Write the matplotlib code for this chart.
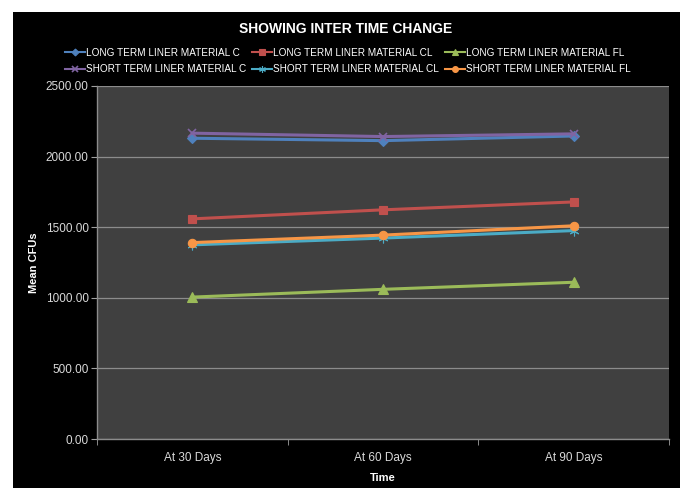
import matplotlib.pyplot as plt
from matplotlib.patches import Rectangle

categories = ["At 30 Days", "At 60 Days", "At 90 Days"]

long_c = [2130, 2113, 2146]
long_cl = [1559, 1623, 1679]
long_fl = [1005, 1060, 1110]
short_c = [2166, 2142, 2161]
short_cl = [1375, 1423, 1476]
short_fl = [1391, 1444, 1510]

y_ticks = [0, 500, 1000, 1500, 2000, 2500]

series = [
    ("LONG TERM LINER MATERIAL C", long_c, "#4F81BD", "D", 5),
    ("LONG TERM LINER MATERIAL CL", long_cl, "#C0504D", "s", 6),
    ("LONG TERM LINER MATERIAL FL", long_fl, "#9BBB59", "^", 7),
    ("SHORT TERM LINER MATERIAL C", short_c, "#8064A2", "x", 6),
    ("SHORT TERM LINER MATERIAL CL", short_cl, "#4BACC6", (6, 2, 0), 7),
    ("SHORT TERM LINER MATERIAL FL", short_fl, "#F79646", "o", 6),
]

plt.rcParams["font.family"] = ["Liberation Sans", "DejaVu Sans"]

fig = plt.figure(figsize=(6.86, 4.88), dpi=100)
fig.patch.set_facecolor("white")
# black chart background inside a thin white margin
fig.add_artist(Rectangle((13 / 686, 0), 667 / 686, 476 / 488,
                         transform=fig.transFigure, facecolor="black",
                         edgecolor="none", zorder=0))

ax = fig.add_axes([97 / 686, 49 / 488, 572 / 686, 353 / 488])
ax.set_facecolor("#404040")

x = list(range(len(categories)))
for label, values, color, marker, ms in series:
    ax.plot(x, values, color=color, lw=2.2, marker=marker, markersize=ms,
            markeredgecolor=color, markeredgewidth=1.2 if marker == "x" else 0.8,
            label=label, zorder=3)

ax.set_xlim(-0.5, len(categories) - 0.5)
ax.set_ylim(0, 2500)
ax.set_yticks(y_ticks)
ax.set_yticklabels([f"{v:.2f}" for v in y_ticks], color="#d9d9d9", fontsize=8.5)
ax.set_xticks(x)
ax.set_xticklabels(categories, color="#d9d9d9", fontsize=8.5)
ax.set_xticks([i + 0.5 for i in range(-1, len(categories))], minor=True)
ax.tick_params(axis="x", which="major", length=0, pad=9)
ax.tick_params(axis="x", which="minor", length=4, color="#a0a0a0")
ax.tick_params(axis="y", length=4, color="#a0a0a0", pad=2)

ax.grid(axis="y", color="#8c8c8c", lw=0.9)
ax.set_axisbelow(True)
for side in ("top", "right"):
    ax.spines[side].set_visible(False)
for side in ("left", "bottom"):
    ax.spines[side].set_color("#8c8c8c")
    ax.spines[side].set_linewidth(1)

ax.set_ylabel("Mean CFUs", color="white", fontsize=8, fontweight="bold", labelpad=5)
ax.set_xlabel("Time", color="white", fontsize=8, fontweight="bold", labelpad=7)

fig.text(346 / 686, 1 - 29 / 488, "SHOWING INTER TIME CHANGE", color="white",
         fontsize=10, fontweight="bold", ha="center", va="center")

# legend reads row by row: long term series on top, short term below
handles, labels = ax.get_legend_handles_labels()
order = [0, 3, 1, 4, 2, 5]
leg = fig.legend([handles[i] for i in order], [labels[i] for i in order],
                 loc="center", bbox_to_anchor=(348 / 686, 1 - 61 / 488), ncol=3,
                 frameon=False, fontsize=7.2, labelcolor="white", handlelength=2.0,
                 handletextpad=0.1, columnspacing=0.6, labelspacing=0.7,
                 markerscale=0.7)
for line in leg.get_lines():
    line.set_linewidth(1.5)

fig.savefig("out.png", dpi=100, facecolor=fig.get_facecolor())
